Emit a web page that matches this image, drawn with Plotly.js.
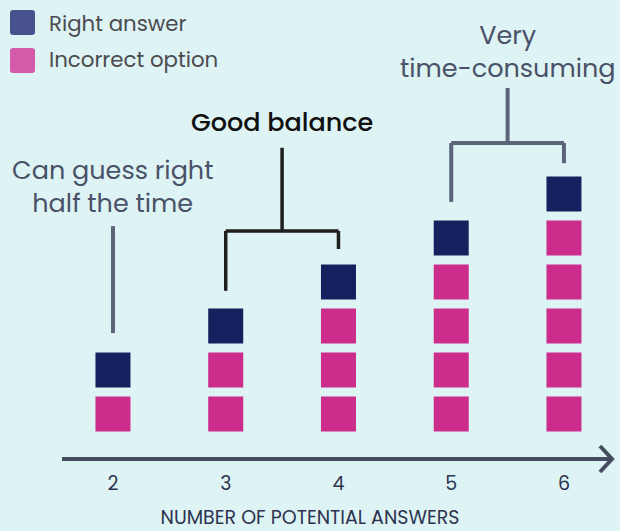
<!DOCTYPE html>
<html>
<head>
<meta charset="utf-8">
<script src="https://cdn.plot.ly/plotly-3.0.1.min.js"></script>
<style>html,body{margin:0;padding:0;background:#ddf3f4;}#chart{width:620px;height:531px;}</style>
</head>
<body>
<div id="chart"></div>
<script>
// ---- data ----
const categories = [2, 3, 4, 5, 6];          // number of potential answers
const incorrectCounts = [1, 2, 3, 4, 5];     // incorrect options per question
const rightCounts = [1, 1, 1, 1, 1];         // right answers per question
const tickLabels = ["2", "3", "4", "5", "6"];
const seriesNames = ["Right answer", "Incorrect option"];
const axisTitle = "NUMBER OF POTENTIAL ANSWERS";
const notes = {
  half: "Can guess right<br>half the time",
  good: "Good balance",
  slow: "Very<br>time-consuming"
};

// ---- build stacked squares ----
const incX = [], incY = [], rightX = [], rightY = [];
categories.forEach((c, i) => {
  for (let k = 1; k <= incorrectCounts[i]; k++) { incX.push(c); incY.push(k); }
  for (let k = 1; k <= rightCounts[i]; k++) { rightX.push(c); rightY.push(incorrectCounts[i] + k); }
});
const stackTop = categories.map((c, i) => incorrectCounts[i] + rightCounts[i]);

const NAVY = "#15205e", PINK = "#cc2c8c";
const FONT = "Poppins, Inter, sans-serif";
const GREY = "#5b6479";

const traces = [
  {type: "scatter", mode: "markers", x: incX, y: incY, name: seriesNames[1], showlegend: false,
   marker: {symbol: "square", size: 35, color: PINK}, hoverinfo: "skip"},
  {type: "scatter", mode: "markers", x: rightX, y: rightY, name: seriesNames[0], showlegend: false,
   marker: {symbol: "square", size: 35, color: NAVY}, hoverinfo: "skip"}
];

// bracket helper
function line(x0, y0, x1, y1, color, w) {
  return {type: "line", xref: "x", yref: "y", x0: x0, y0: y0, x1: x1, y1: y1,
          line: {color: color, width: w}, layer: "above"};
}
const gap = 0.8;
const shapes = [];
// half the time: category 2
shapes.push(line(categories[0], stackTop[0] + gap + 0.04, categories[0], stackTop[0] + 3.27, GREY, 4));
// good balance: categories 3 & 4
const gbY = 5.16;
shapes.push(line(categories[1], gbY, categories[2], gbY, "#1e1e1e", 3.5));
shapes.push(line(categories[1], stackTop[1] + gap, categories[1], gbY, "#1e1e1e", 3.5));
shapes.push(line(categories[2], stackTop[2] + 0.75, categories[2], gbY, "#1e1e1e", 3.5));
shapes.push(line((categories[1] + categories[2]) / 2, gbY, (categories[1] + categories[2]) / 2, 7.05, "#1e1e1e", 3.5));
// very time-consuming: categories 5 & 6
const vtY = 7.16;
shapes.push(line(categories[3], vtY, categories[4], vtY, GREY, 4));
shapes.push(line(categories[3], stackTop[3] + 0.82, categories[3], vtY, GREY, 4));
shapes.push(line(categories[4], stackTop[4] + 0.7, categories[4], vtY, GREY, 4));
shapes.push(line((categories[3] + categories[4]) / 2, vtY, (categories[3] + categories[4]) / 2, 8.41, GREY, 4));
// axis arrow
const axisEnd = 6.426;
shapes.push({type: "line", xref: "x", yref: "paper", x0: 1.548, x1: axisEnd, y0: 0, y1: 0,
             line: {color: "#454c60", width: 4}});
shapes.push({type: "path", xref: "x", yref: "paper", xsizemode: "pixel", ysizemode: "pixel",
             xanchor: axisEnd, yanchor: 0, path: "M-12,13 L0,0 L-12,-13",
             line: {color: "#454c60", width: 4}});
// legend swatches
function rrect(x, y, s, r) {
  return `M${x + r},${y} H${x + s - r} Q${x + s},${y} ${x + s},${y + r} V${y + s - r} Q${x + s},${y + s} ${x + s - r},${y + s} H${x + r} Q${x},${y + s} ${x},${y + s - r} V${y + r} Q${x},${y} ${x + r},${y} Z`;
}
shapes.push({type: "path", xref: "paper", yref: "paper", xsizemode: "pixel", ysizemode: "pixel",
             xanchor: 0, yanchor: 1, path: rrect(10, -35, 25, 3), fillcolor: "#47528c", line: {width: 0}});
shapes.push({type: "path", xref: "paper", yref: "paper", xsizemode: "pixel", ysizemode: "pixel",
             xanchor: 0, yanchor: 1, path: rrect(10, -73, 25, 3), fillcolor: "#d35ba9", line: {width: 0}});

const H = 531, B = 72, PH = H - B;
const annotations = [
  {text: notes.half, x: categories[0], y: 6.16, xref: "x", yref: "y", showarrow: false,
   font: {family: FONT, size: 25.5, color: "#4a5168"}, align: "center"},
  {text: notes.good, x: (categories[1] + categories[2]) / 2, y: 7.64, xref: "x", yref: "y", showarrow: false,
   font: {family: FONT, size: 25.5, color: "#111111", weight: 500}, align: "center"},
  {text: notes.slow, x: (categories[3] + categories[4]) / 2, y: 9.23, xref: "x", yref: "y", showarrow: false,
   font: {family: FONT, size: 25.5, color: "#4a5168"}, align: "center"},
  {text: seriesNames[0], x: 47 / 620, y: 1 - 23 / PH, xref: "paper", yref: "paper", xanchor: "left", yanchor: "middle",
   showarrow: false, font: {family: FONT, size: 21.3, color: "#4b4b50"}},
  {text: seriesNames[1], x: 47 / 620, y: 1 - 60 / PH, xref: "paper", yref: "paper", xanchor: "left", yanchor: "middle",
   showarrow: false, font: {family: FONT, size: 21.3, color: "#4b4b50"}}
];

const layout = {
  width: 620, height: 531,
  margin: {l: 0, r: 0, t: 0, b: B, pad: 0},
  paper_bgcolor: "#ddf3f4", plot_bgcolor: "#ddf3f4",
  showlegend: false,
  xaxis: {range: [0.998, 6.497], tickvals: categories, ticktext: tickLabels, ticks: "",
          showgrid: false, zeroline: false, showline: false, ticklabelstandoff: 11,
          tickfont: {family: FONT, size: 19, color: "#2d3350"},
          title: {text: axisTitle, font: {family: FONT, size: 19, color: "#2d3350"}, standoff: 19}},
  yaxis: {range: [-0.0227, 10.409], showgrid: false, zeroline: false, showline: false, showticklabels: false, ticks: ""},
  shapes: shapes,
  annotations: annotations
};
Plotly.newPlot("chart", traces, layout, {displayModeBar: false, staticPlot: true});
</script>
</body>
</html>
